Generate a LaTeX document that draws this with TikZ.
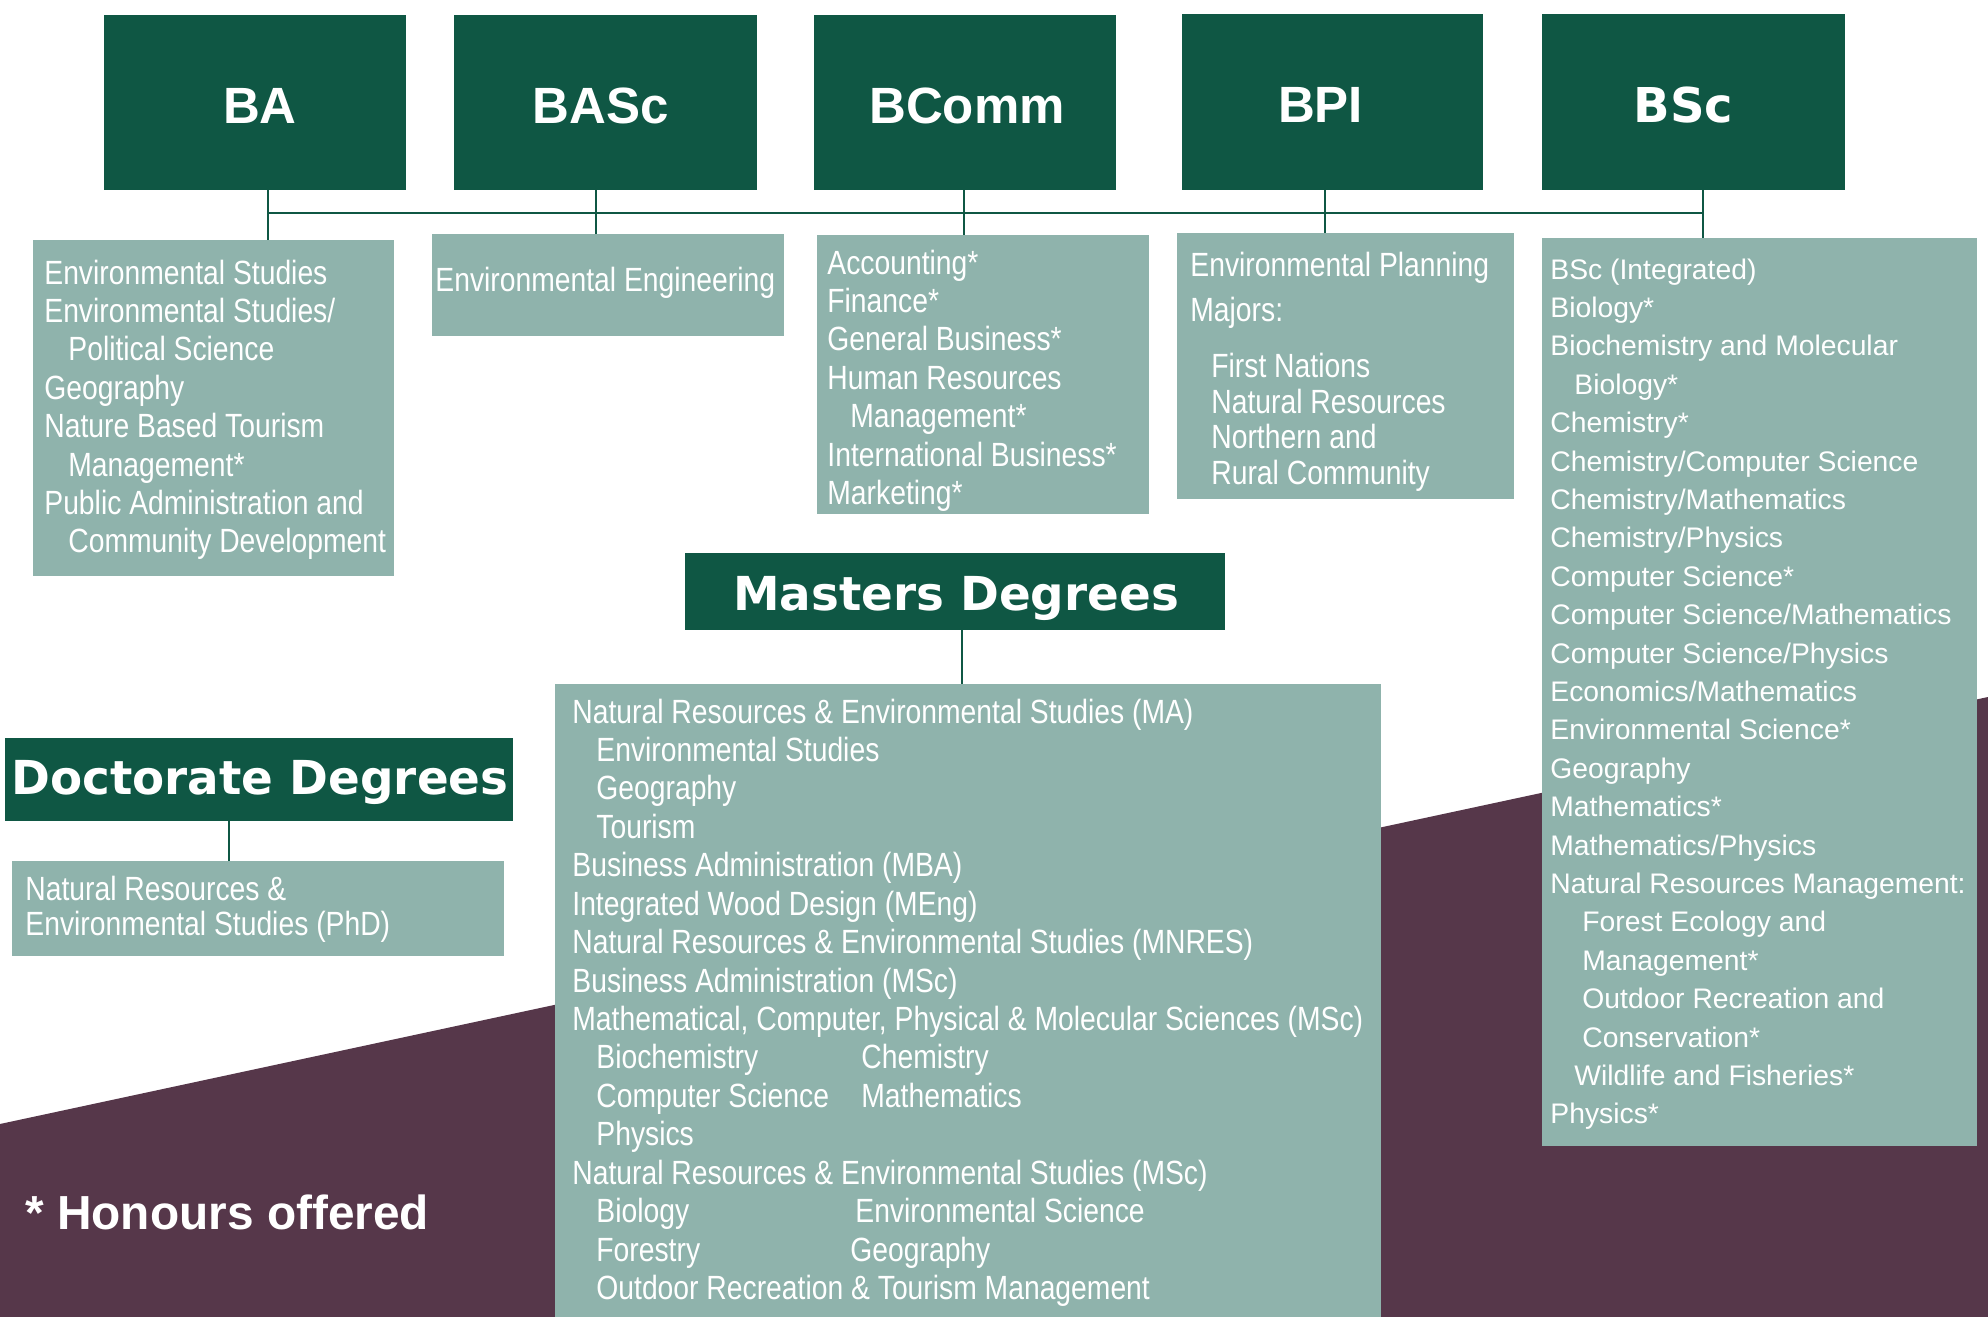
\documentclass[tikz,border=0pt]{standalone}
\usepackage{fontspec}
\setmainfont{Liberation Sans}
\newfontfamily\nfont[FakeStretch=0.842]{Liberation Sans}
\newfontfamily\hvfont{DejaVu Sans}
\usetikzlibrary{calc}
\definecolor{dgreen}{RGB}{15,87,68}
\definecolor{sage}{RGB}{143,179,172}
\definecolor{plum}{RGB}{86,55,74}
\begin{document}
\begin{tikzpicture}[x=0.5pt,y=-0.5pt,
  darkbox/.style={fill=dgreen, draw=none, anchor=north west, inner sep=0pt, outer sep=0pt},
  listbox/.style={fill=sage, draw=none, anchor=north west, inner sep=0pt, outer sep=0pt},
  ntext/.style={anchor=base west, inner sep=0pt, text=white, font=\nfont\fontsize{16.8}{19}\selectfont},
  stext/.style={anchor=base west, inner sep=0pt, text=white, font=\fontsize{14.15}{17}\selectfont},
  conn/.style={draw=dgreen, line width=1.25pt},
  titletext/.style={text=white, inner sep=0pt, text depth=0pt, font=\bfseries\fontsize{25.5}{30}\selectfont},
  heavytext/.style={text=white, inner sep=0pt, text depth=0pt, font=\hvfont\bfseries\fontsize{23.4}{28}\selectfont}]

\fill[white] (0,0) rectangle (1988,1317);
\useasboundingbox (0,0) rectangle (1988,1317);
\fill[plum] (0,1124) -- (1988,697) -- (1988,1317) -- (0,1317) -- cycle;

% degree title boxes
\node[darkbox, minimum width=151pt, minimum height=87.5pt] (ba) at (104,15) {};
\node[darkbox, minimum width=151.5pt, minimum height=87.5pt] (basc) at (454,15) {};
\node[darkbox, minimum width=151pt, minimum height=87.5pt] (bcomm) at (814,15) {};
\node[darkbox, minimum width=150.5pt, minimum height=88pt] (bpi) at (1182,14) {};
\node[darkbox, minimum width=151.5pt, minimum height=88pt] (bsc) at (1542,14) {};
\node[titletext] (ba-t) at ($(ba.center)+(5,3)$) {BA};
\node[titletext] (basc-t) at ($(basc.center)+(-5,3)$) {BASc};
\node[titletext] (bcomm-t) at ($(bcomm.center)+(2,3)$) {BComm};
\node[titletext] (bpi-t) at ($(bpi.center)+(-12,3)$) {BPI};
\node[heavytext, font=\hvfont\bfseries\fontsize{24}{28}\selectfont] (bsc-t) at ($(bsc.center)+(-10,3)$) {BSc};

% list boxes
\node[listbox, minimum width=180.5pt, minimum height=168pt] (balist) at (33,240) {};
\node[listbox, minimum width=176pt, minimum height=51pt] (basclist) at (432,234) {};
\node[listbox, minimum width=166pt, minimum height=139.5pt] (bcommlist) at (817,235) {};
\node[listbox, minimum width=168.5pt, minimum height=133pt] (bpilist) at (1177,233) {};
\node[listbox, minimum width=217.5pt, minimum height=454pt] (bsclist) at (1542,238) {};

% masters and doctorate
\node[darkbox, minimum width=270pt, minimum height=38.5pt] (masters) at (685,553) {};
\node[heavytext] (masters-t) at ($(masters.center)+(1,2)$) {Masters Degrees};
\node[listbox, minimum width=413pt, minimum height=316.5pt] (masterslist) at (555,684) {};
\node[darkbox, minimum width=254pt, minimum height=41.5pt] (doct) at (5,738) {};
\node[heavytext] (doct-t) at ($(doct.center)+(1,-2)$) {Doctorate Degrees};
\node[listbox, minimum width=246pt, minimum height=47.5pt] (doctlist) at (12,861) {};

% connectors
\coordinate (c1) at (268,213);
\coordinate (c2) at (596,213);
\coordinate (c3) at (964,213);
\coordinate (c4) at (1325,213);
\coordinate (c5) at (1703,213);
\coordinate (cm) at (962,0);
\coordinate (cd) at (229,0);
\draw[conn] (c1) -- (c5);
\draw[conn] (ba.south -| c1) -- (balist.north -| c1);
\draw[conn] (basc.south -| c2) -- (basclist.north -| c2);
\draw[conn] (bcomm.south -| c3) -- (bcommlist.north -| c3);
\draw[conn] (bpi.south -| c4) -- (bpilist.north -| c4);
\draw[conn] (bsc.south -| c5) -- (bsclist.north -| c5);
\draw[conn] (masters.south -| cm) -- (masterslist.north -| cm);
\draw[conn] (doct.south -| cd) -- (doctlist.north -| cd);

% BA list
\foreach \d/\t [count=\i from 0] in {0/{Environmental Studies}, 0/{Environmental Studies/}, 1/{Political Science}, 0/{Geography}, 0/{Nature Based Tourism}, 1/{Management*}, 0/{Public Administration and}, 1/{Community Development}}
  \node[ntext] (ba-\i) at (44+\d*24, 284+\i*38.4) {\t};

% BASc list
\node[ntext] (basc-0) at (435,291) {Environmental Engineering};

% BComm list
\foreach \d/\t [count=\i from 0] in {0/{Accounting*}, 0/{Finance*}, 0/{General Business*}, 0/{Human Resources}, 1/{Management*}, 0/{International Business*}, 0/{Marketing*}}
  \node[ntext] (bcomm-\i) at (827+\d*23, 274+\i*38.45) {\t};

% BPI list
\node[ntext] (bpi-0) at (1190,276) {Environmental Planning};
\node[ntext] (bpi-1) at (1190,321) {Majors:};
\node[ntext] (bpi-2) at (1211,377) {First Nations};
\node[ntext] (bpi-3) at (1211,413) {Natural Resources};
\node[ntext] (bpi-4) at (1211,448) {Northern and};
\node[ntext] (bpi-5) at (1211,484) {Rural Community};

% BSc list
\foreach \d/\t [count=\i from 0] in {0/{BSc (Integrated)}, 0/{Biology*}, 0/{Biochemistry and Molecular}, 24/{Biology*}, 0/{Chemistry*}, 0/{Chemistry/Computer Science}, 0/{Chemistry/Mathematics}, 0/{Chemistry/Physics}, 0/{Computer Science*}, 0/{Computer Science/Mathematics}, 0/{Computer Science/Physics}, 0/{Economics/Mathematics}, 0/{Environmental Science*}, 0/{Geography}, 0/{Mathematics*}, 0/{Mathematics/Physics}, 0/{Natural Resources Management:}, 32/{Forest Ecology and}, 32/{Management*}, 32/{Outdoor Recreation and}, 32/{Conservation*}, 24/{Wildlife and Fisheries*}, 0/{Physics*}}
  \node[stext] (bsc-\i) at (1550+\d, 279+\i*38.4) {\t};

% Masters list
\foreach \d/\t [count=\i from 0] in {0/{Natural Resources \& Environmental Studies (MA)}, 1/{Environmental Studies}, 1/{Geography}, 1/{Tourism}, 0/{Business Administration (MBA)}, 0/{Integrated Wood Design (MEng)}, 0/{Natural Resources \& Environmental Studies (MNRES)}, 0/{Business Administration (MSc)}, 0/{Mathematical, Computer, Physical \& Molecular Sciences (MSc)}, 1/{Biochemistry}, 1/{Computer Science}, 1/{Physics}, 0/{Natural Resources \& Environmental Studies (MSc)}, 1/{Biology}, 1/{Forestry}, 1/{Outdoor Recreation \& Tourism Management}}
  \node[ntext] (ms-\i) at (572+\d*24, 723+\i*38.44) {\t};
\node[ntext] (ms-c1) at (861,723+9*38.44) {Chemistry};
\node[ntext] (ms-c2) at (861,723+10*38.44) {Mathematics};
\node[ntext] (ms-c3) at (855,723+13*38.44) {Environmental Science};
\node[ntext] (ms-c4) at (850,723+14*38.44) {Geography};

% Doctorate list
\node[ntext] (doc-0) at (25,900) {Natural Resources \&};
\node[ntext] (doc-1) at (25,935) {Environmental Studies (PhD)};

% note
\node[anchor=base west, inner sep=0pt, text=white, font=\bfseries\fontsize{23.9}{28}\selectfont] (honours) at (25,1229) {* Honours offered};
\end{tikzpicture}
\end{document}
